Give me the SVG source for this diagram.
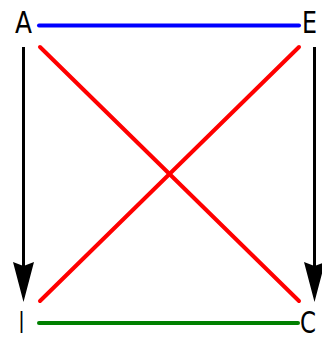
<svg xmlns="http://www.w3.org/2000/svg" width="322" height="339" viewBox="0 0 322 339">
<style>
.lbl{font-family:"DejaVu Sans",sans-serif;font-size:31px;fill:#000}
.e{stroke-width:4;fill:none;stroke-linecap:round}
.arr{stroke:#000;stroke-width:3;fill:none}
</style>
<rect width="322" height="339" fill="#fff"/>
<g id="connectors">
<line class="e" x1="39" y1="25.5" x2="299" y2="25.5" stroke="#0000ff"/>
<line class="e" x1="39" y1="323" x2="298" y2="323" stroke="#008000"/>
<line class="e" x1="40" y1="47" x2="299" y2="301" stroke="#ff0000"/>
<line class="e" x1="299" y1="47" x2="40" y2="301" stroke="#ff0000"/>
<path d="M23.5,47 V266" class="arr"/>
<path d="M13,262 L23.5,266 L34,262 L23.5,302 Z" fill="#000"/>
<path d="M314.5,47 V266" class="arr"/>
<path d="M304,262 L314.5,266 L325,262 L314.5,302 Z" fill="#000"/>
</g>
<g id="A"><text class="lbl" x="15" y="33" textLength="17" lengthAdjust="spacingAndGlyphs">A</text></g>
<g id="E"><text class="lbl" x="302" y="33" textLength="15" lengthAdjust="spacingAndGlyphs">E</text></g>
<g id="I"><text class="lbl" x="19" y="333" textLength="5" lengthAdjust="spacingAndGlyphs">I</text></g>
<g id="C"><text class="lbl" x="300" y="333" textLength="16" lengthAdjust="spacingAndGlyphs">C</text></g>
</svg>
